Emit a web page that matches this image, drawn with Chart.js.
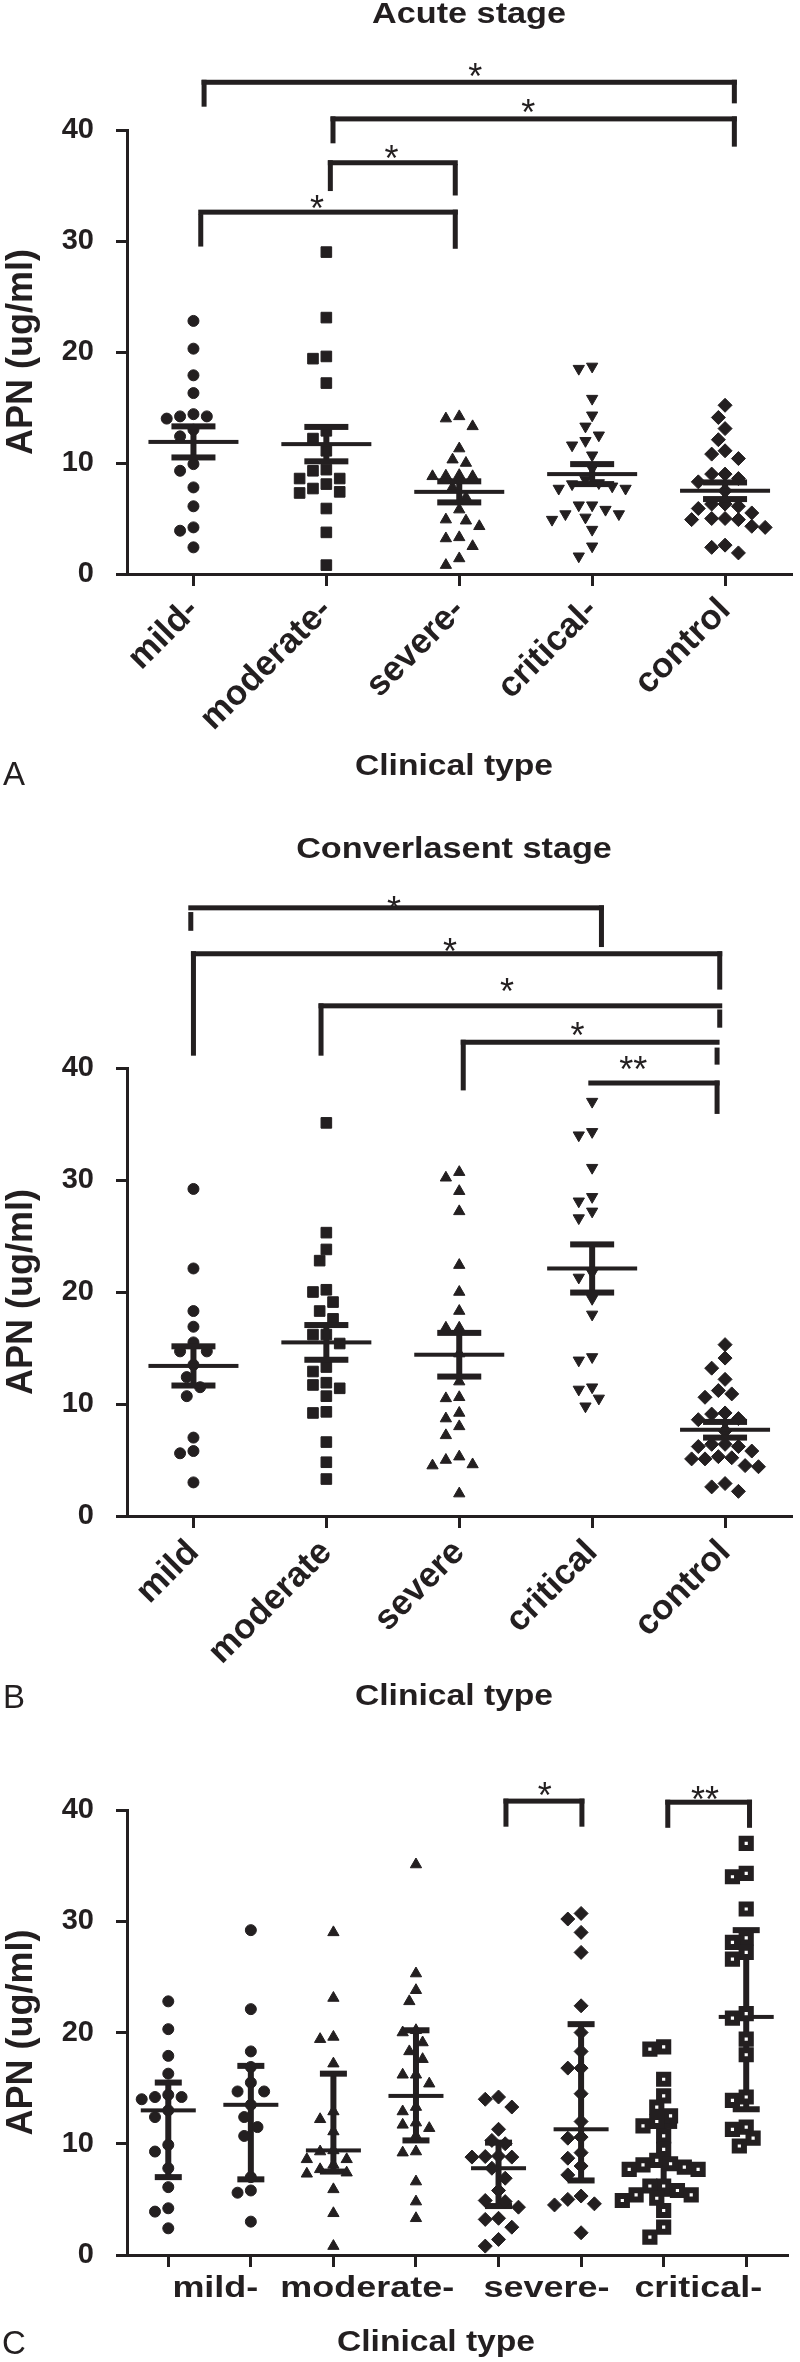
<!DOCTYPE html>
<html>
<head>
<meta charset="utf-8">
<title>APN by clinical type</title>
<script src="https://cdn.jsdelivr.net/npm/chart.js@4.4.1/dist/chart.umd.min.js"></script>
<style>
  html, body { margin: 0; padding: 0; background: #fff; }
  #page { position: relative; width: 800px; height: 2362px; }
  canvas { position: absolute; left: 0; }
</style>
</head>
<body>
<div id="page">
  <canvas id="panelA" width="800" height="800" style="top:0"></canvas>
  <canvas id="panelB" width="800" height="930" style="top:800px"></canvas>
  <canvas id="panelC" width="800" height="632" style="top:1730px"></canvas>
</div>
<script>
const ink = '#231f20';
const FONT = '"Liberation Sans", Arial, Helvetica, sans-serif';
Chart.defaults.font.family = FONT;
Chart.defaults.color = ink;

// ---- categories ----
const catsA = ['mild-', 'moderate-', 'severe-', 'critical-', 'control'];
const catsB = ['mild', 'moderate', 'severe', 'critical', 'control'];
const groupsC = ['mild-', 'moderate-', 'severe-', 'critical-'];
const groupPosC = [1.57, 3.41, 5.58, 7.42];

// ---- acute stage values (ug/ml) ----
const mildA = [22.8, 20.3, 17.9, 16.3, 14.2, 14.0, 14.2, 14.4, 13.0, 12.4, 9.9, 9.3, 7.8, 6.1, 4.2, 3.9, 2.4];
const moderateA = [29.0, 23.1, 19.4, 19.6, 17.2, 12.9, 12.2, 11.1, 9.3, 9.4, 8.6, 8.6, 8.1, 7.4, 7.3, 7.7, 5.9, 3.75, 0.8];
const severeA = [14.2, 14.0, 13.3, 11.3, 10.0, 10.3, 8.8, 8.8, 8.85, 8.9, 7.8, 6.9, 5.8, 4.9, 4.8, 4.3, 3.2, 3.3, 2.5, 1.4, 0.8];
const criticalA = [18.5, 18.7, 15.8, 14.3, 13.3, 12.5, 12.0, 11.6, 10.7, 9.5, 8.5, 8.1, 7.7, 7.7, 7.9, 8.2, 6.2, 6.2, 5.8, 5.4, 5.4, 4.9, 5.1, 4.0, 2.5, 1.6];
const controlA = [15.2, 14.1, 13.1, 12.1, 11.1, 10.8, 10.4, 9.0, 9.0, 8.6, 8.3, 7.5, 6.3, 6.1, 5.9, 6.3, 5.5, 5.0, 4.9, 4.9, 5.0, 4.3, 4.2, 2.6, 2.4, 1.9];
const meanA = [11.9, 11.7, 7.4, 9.0, 7.5];
const semA = [1.4, 1.55, 0.95, 0.9, 0.75];

// ---- convalescent stage values ----
const mildB = [29.2, 22.1, 18.3, 16.9, 15.5, 14.7, 14.7, 13.5, 12.4, 11.5, 10.7, 7.0, 5.8, 5.6, 3.0];
const moderateB = [35.1, 25.3, 23.8, 22.8, 20.2, 20.0, 19.1, 18.3, 17.6, 16.2, 16.2, 15.4, 13.3, 12.9, 11.7, 11.9, 11.4, 10.7, 9.3, 9.2, 6.6, 4.8, 3.3];
const severeB = [30.7, 30.2, 29.0, 27.2, 22.4, 20.0, 18.3, 16.8, 16.8, 14.5, 12.0, 10.5, 10.6, 9.2, 8.7, 8.0, 7.2, 5.3, 4.6, 4.5, 5.0, 2.0];
const criticalB = [37.0, 34.3, 34.0, 31.1, 28.5, 28.1, 27.2, 26.6, 21.7, 21.3, 19.4, 18.0, 13.9, 14.2, 11.5, 11.3, 10.5, 9.8];
const controlB = [15.3, 14.1, 13.2, 12.2, 11.2, 10.9, 10.6, 9.2, 9.1, 8.7, 8.6, 7.6, 6.4, 6.2, 6.2, 6.4, 5.8, 5.3, 5.1, 5.1, 5.2, 4.5, 4.4, 2.9, 2.6, 2.2];
const meanB = [13.4, 15.5, 14.4, 22.1, 7.7];
const semB = [1.75, 1.55, 1.95, 2.15, 0.7];

// ---- panel C: median and interquartile range, acute / convalescent pairs ----
const medianC = [13.0, 13.5, 9.4, 14.3, 7.8, 11.3, 8.0, 21.4];
const q1C = [7.0, 6.8, 7.5, 10.3, 4.4, 6.7, 5.5, 13.1];
const q3C = [15.5, 17.0, 16.3, 20.2, 10.1, 20.75, 11.6, 29.2];

// ---- significance brackets (x in category units, y in ug/ml) ----
const bracketsA = [
  { x1: 1.08, x2: 5.07, y: 44.3, legs: [[1.08, 44.3, 42.1], [5.07, 44.3, 42.4]], text: '*', tx: 3.12, ty: 45.6 },
  { x1: 2.05, x2: 5.07, y: 41.0, legs: [[2.05, 41.0, 38.8], [5.07, 41.0, 38.5]], text: '*', tx: 3.52, ty: 42.3 },
  { x1: 2.03, x2: 2.97, y: 37.05, legs: [[2.03, 37.05, 34.5], [2.97, 36.7, 34.1]], text: '*', tx: 2.49, ty: 38.2 },
  { x1: 1.055, x2: 2.97, y: 32.6, legs: [[1.055, 32.2, 29.5], [2.97, 32.6, 29.3]], text: '*', tx: 1.93, ty: 33.7 }
];
const bracketsB = [
  { x1: 0.98, x2: 4.07, y: 54.3, legs: [[0.98, 53.7, 52.25], [4.07, 54.3, 50.8]], text: '*', tx: 2.51, ty: 54.9 },
  { x1: 1.0, x2: 4.96, y: 50.2, legs: [[1.0, 50.2, 41.1], [4.96, 50.2, 47.0]], text: '*', tx: 2.93, ty: 51.1 },
  { x1: 1.96, x2: 4.96, y: 45.55, legs: [[1.96, 45.55, 41.1], [4.96, 45.0, 43.6]], text: '*', tx: 3.36, ty: 47.6 },
  { x1: 3.03, x2: 4.94, y: 42.3, legs: [[3.03, 42.3, 38.0], [4.94, 41.6, 40.3]], text: '*', tx: 3.89, ty: 43.6 },
  { x1: 3.99, x2: 4.94, y: 38.66, legs: [[4.94, 38.66, 35.9]], text: '**', tx: 4.31, ty: 40.6 }
];
const bracketsC = [
  { x1: 5.09, x2: 6.01, y: 40.8, legs: [[5.09, 40.8, 38.5], [6.01, 40.8, 38.5]], text: '*', tx: 5.56, ty: 42.0 },
  { x1: 7.05, x2: 8.04, y: 40.7, legs: [[7.05, 40.7, 38.4], [8.04, 40.7, 38.4]], text: '**', tx: 7.5, ty: 41.7 }
];

// marker looks
const circle = { style: 'circle', r: 5.5 };
const square = { style: 'rect', r: 7.5 };
const tri = { style: 'triangle', r: 6.5 };
const triDown = { style: 'triangle', r: 6.5, rot: 180 };
const diamond = { style: 'rectRot', r: 7 };
const openSquare = { style: 'rect', r: 6.5, open: true, bw: 6 };

// spread points sideways so equal values don't overlap (like a column scatter)
function swarm(values, center, xPx, yPx, d) {
  const placed = [];
  const out = new Array(values.length);
  const order = values.map((v, i) => i).sort((a, b) => values[b] - values[a]);
  const step = d / 2 + 0.5;
  order.forEach(i => {
    const v = values[i];
    for (let k = 0; k < 60; k++) {
      const off = k === 0 ? 0 : (k % 2 ? -1 : 1) * Math.ceil(k / 2) * step;
      const free = placed.every(p => Math.hypot(p.off - off, (p.v - v) * yPx) >= d);
      if (free) {
        placed.push({ off, v });
        out[i] = { x: center + off / xPx, y: v };
        break;
      }
    }
  });
  return out;
}

function dataset(points, m) {
  return {
    data: points,
    pointStyle: m.style,
    pointRadius: m.r,
    pointHoverRadius: m.r,
    pointRotation: m.rot || 0,
    pointBackgroundColor: m.open ? '#fff' : ink,
    pointBorderColor: ink,
    pointBorderWidth: m.bw || 1,
    clip: false
  };
}

function wideText(ctx, str, x, y, size, weight, sx) {
  ctx.save();
  ctx.font = weight + ' ' + size + 'px ' + FONT;
  ctx.fillStyle = ink;
  ctx.textAlign = 'center';
  ctx.textBaseline = 'middle';
  ctx.translate(x, y);
  ctx.scale(sx, 1);
  ctx.fillText(str, 0, 0);
  ctx.restore();
}

function drawBrackets(chart, list, lw) {
  const { ctx, scales: { x, y } } = chart;
  ctx.save();
  ctx.fillStyle = ink;
  list.forEach(b => {
    const xa = x.getPixelForValue(b.x1), xb = x.getPixelForValue(b.x2);
    const yy = y.getPixelForValue(b.y);
    ctx.fillRect(xa - lw / 2, yy - lw / 2, xb - xa + lw, lw);
    b.legs.forEach(([lx, top, bottom]) => {
      const px = x.getPixelForValue(lx);
      const t = y.getPixelForValue(top), btm = y.getPixelForValue(bottom);
      ctx.fillRect(px - lw / 2, t - lw / 2, lw, btm - t + lw / 2);
    });
    ctx.font = 'normal 36px ' + FONT;
    ctx.textAlign = 'center';
    ctx.textBaseline = 'alphabetic';
    ctx.fillText(b.text, x.getPixelForValue(b.tx), y.getPixelForValue(b.ty) + 0.575 * 36);
  });
  ctx.restore();
}

function semBars(chart, mean, sem) {
  const { ctx, scales: { x, y } } = chart;
  ctx.save();
  ctx.fillStyle = ink;
  mean.forEach((m, i) => {
    const cx = x.getPixelForValue(i + 1);
    const yt = y.getPixelForValue(m + sem[i]);
    const yb = y.getPixelForValue(m - sem[i]);
    const ym = y.getPixelForValue(m);
    ctx.fillRect(cx - 3, yt, 6, yb - yt);
    ctx.fillRect(cx - 22, yt - 3, 44, 6);
    ctx.fillRect(cx - 22, yb - 3, 44, 6);
    ctx.fillRect(cx - 45, ym - 2, 90, 4);
  });
  ctx.restore();
}

function iqrBars(chart, med, lo, hi) {
  const { ctx, scales: { x, y } } = chart;
  ctx.save();
  ctx.fillStyle = ink;
  med.forEach((m, i) => {
    const cx = x.getPixelForValue(i + 1);
    const yt = y.getPixelForValue(hi[i]);
    const yb = y.getPixelForValue(lo[i]);
    const ym = y.getPixelForValue(m);
    ctx.fillRect(cx - 3, yt, 6, yb - yt);
    ctx.fillRect(cx - 13.5, yt - 3, 27, 6);
    ctx.fillRect(cx - 13.5, yb - 3, 27, 6);
    ctx.fillRect(cx - 27.5, ym - 2, 55, 4);
  });
  ctx.restore();
}

function axes(opts) {
  return {
    x: {
      type: 'linear',
      min: 0.5,
      max: opts.n + 0.5,
      afterBuildTicks: axis => { axis.ticks = opts.cats.map((c, i) => ({ value: i + 1 })); },
      afterFit: s => { s.height = opts.xHeight; s.paddingLeft = 0; s.paddingRight = 0; },
      ticks: {
        autoSkip: false,
        minRotation: opts.rot,
        maxRotation: opts.rot,
        padding: opts.labelPad,
        color: ink,
        font: { size: 35, weight: 'bold' },
        callback: v => opts.labels ? (opts.cats[v - 1] || '') : ''
      },
      grid: { drawOnChartArea: false, drawTicks: true, tickLength: 12, tickWidth: 3, lineWidth: 3, tickColor: ink, color: ink },
      border: { display: true, width: 3, color: ink }
    },
    y: {
      min: 0,
      max: 40,
      afterFit: s => { s.width = 127; s.paddingTop = 0; s.paddingBottom = 0; },
      ticks: { stepSize: 10, padding: 22, color: ink, font: { size: 29, weight: 'bold' } },
      grid: { drawOnChartArea: false, drawTicks: true, tickLength: 11, tickWidth: 3, lineWidth: 3, tickColor: ink, color: ink },
      border: { display: true, width: 3, color: ink },
      title: { display: true, text: 'APN (ug/ml)', color: ink, font: { size: 36, weight: 'bold' }, padding: { top: 0, bottom: 0 } }
    }
  };
}

function baseOptions(top, scales) {
  return {
    responsive: false,
    animation: false,
    devicePixelRatio: 1,
    events: [],
    layout: { padding: { top: top, left: 0, right: 2, bottom: 0 } },
    plugins: { legend: { display: false }, tooltip: { enabled: false }, title: { display: false } },
    scales: scales
  };
}

// ---------- panel A : acute stage ----------
const setA = [mildA, moderateA, severeA, criticalA, controlA];
const marksA = [circle, square, tri, triDown, diamond];
new Chart(document.getElementById('panelA'), {
  type: 'scatter',
  data: { datasets: setA.map((vals, i) => dataset(swarm(vals, i + 1, 134.2, 11.1, 12.5), marksA[i])) },
  options: baseOptions(130, axes({ n: 5, cats: catsA, labels: true, rot: 45, labelPad: 4, xHeight: 226 })),
  plugins: [{
    id: 'panelA',
    afterDatasetsDraw(chart) { semBars(chart, meanA, semA); },
    afterDraw(chart) {
      drawBrackets(chart, bracketsA, 5);
      wideText(chart.ctx, 'Acute stage', 469, 15, 29, 'bold', 1.18);
      wideText(chart.ctx, 'Clinical type', 454, 767, 29, 'bold', 1.16);
      wideText(chart.ctx, 'A', 14, 776, 33, 'normal', 1);
    }
  }]
});

// ---------- panel B : convalescent stage ----------
const setB = [mildB, moderateB, severeB, criticalB, controlB];
new Chart(document.getElementById('panelB'), {
  type: 'scatter',
  data: { datasets: setB.map((vals, i) => dataset(swarm(vals, i + 1, 134.2, 11.2, 12.5), marksA[i])) },
  options: baseOptions(268, axes({ n: 5, cats: catsB, labels: true, rot: 45, labelPad: 4, xHeight: 214 })),
  plugins: [{
    id: 'panelB',
    afterDatasetsDraw(chart) { semBars(chart, meanB, semB); },
    afterDraw(chart) {
      drawBrackets(chart, bracketsB, 5);
      wideText(chart.ctx, 'Converlasent stage', 454, 50, 29, 'bold', 1.18);
      wideText(chart.ctx, 'Clinical type', 454, 897, 29, 'bold', 1.16);
      wideText(chart.ctx, 'B', 14, 899, 33, 'normal', 1);
    }
  }]
});

// ---------- panel C : acute vs convalescent ----------
const setC = [mildA, mildB, moderateA, moderateB, severeA, severeB, criticalA, criticalB];
const marksC = [circle, circle, tri, tri, diamond, diamond, openSquare, openSquare];
const slotsC = setC.map((v, i) => String(i + 1));
new Chart(document.getElementById('panelC'), {
  type: 'scatter',
  data: { datasets: setC.map((vals, i) => dataset(swarm(vals, i + 1, 83.9, 11.13, i >= 6 ? 13 : 12.5), marksC[i])) },
  options: baseOptions(80, axes({ n: 8, cats: slotsC, labels: false, rot: 0, labelPad: 4, xHeight: 107 })),
  plugins: [{
    id: 'panelC',
    beforeDatasetsDraw(chart) { iqrBars(chart, medianC, q1C, q3C); },
    afterDraw(chart) {
      drawBrackets(chart, bracketsC, 5);
      const x = chart.scales.x;
      groupsC.forEach((g, i) => wideText(chart.ctx, g, x.getPixelForValue(groupPosC[i]), 559, 29, 'bold', 1.24));
      wideText(chart.ctx, 'Clinical type', 436, 613, 29, 'bold', 1.16);
      wideText(chart.ctx, 'C', 14, 615, 33, 'normal', 1);
    }
  }]
});
</script>
</body>
</html>
